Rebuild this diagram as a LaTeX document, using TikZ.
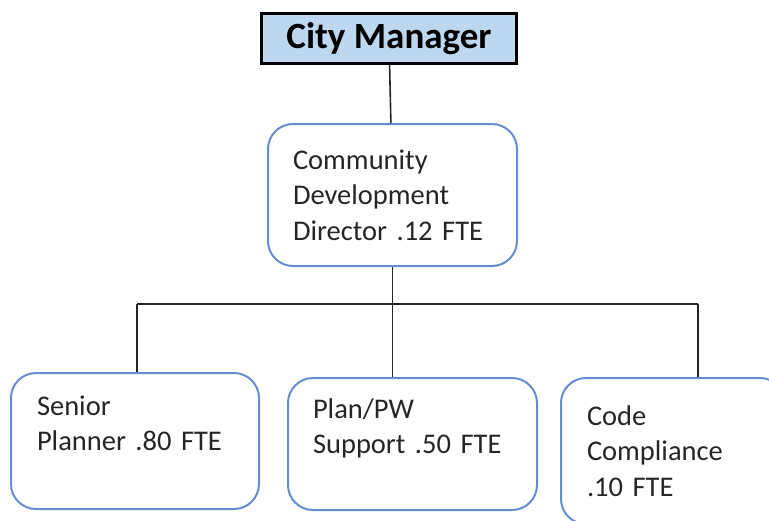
\documentclass[tikz,border=0pt]{standalone}
\usepackage{fontspec}
\setmainfont{Carlito}
\usepackage{tikz}
\usetikzlibrary{calc}
\usetikzlibrary{positioning}

\definecolor{headfill}{RGB}{189,215,238}
\definecolor{boxline}{RGB}{102,140,212}
\definecolor{txt}{RGB}{38,38,38}

\begin{document}
\begin{tikzpicture}[x=1pt, y=-1pt,
    head/.style={draw=black, line width=3pt, fill=headfill, inner sep=0pt,
        font=\fontsize{37}{44}\selectfont\bfseries, text=black},
    staff/.style={draw=boxline, line width=2pt, rounded corners=25pt, fill=white,
        align=left, inner xsep=0pt, inner ysep=0pt, text=txt,
        font=\fontsize{28.5}{35.5}\selectfont},
    link/.style={line width=1.6pt, draw=black!85}]
    \clip (0,0) rectangle (769,520);
    \node [head, minimum width=255pt, minimum height=50pt] (cm) at (389,38.5) {City Manager};
    \node [staff, minimum width=249pt, minimum height=142pt, text width=199pt] (dir) at (392.5,195)
        {Community\\Development\\Director .12 FTE};
    \node [staff, minimum width=248pt, minimum height=136pt, text width=196pt] (sen) at (135,441)
        {Senior\\Planner .80 FTE\\\mbox{}};
    \node [staff, minimum width=249pt, minimum height=132pt, text width=199pt] (plan) at (412.5,444)
        {Plan/PW\\Support .50 FTE\\\mbox{}};
    \node [staff, minimum width=224pt, minimum height=146pt, text width=172pt] (code) at (673,451)
        {Code\\Compliance\\.10 FTE};
    \coordinate (busL) at (137,304);
    \coordinate (busR) at (698,304);
    \coordinate (senTop) at (busL |- sen.north);
    \coordinate (planTop) at (dir.south |- plan.north);
    \coordinate (codeTop) at (busR |- code.north);
    \draw [link] (cm) -- (dir);
    \draw [link] (dir.south) -- (planTop);
    \draw [link] (busL) -- (busR);
    \draw [link] (busL) -- (senTop);
    \draw [link] (busR) -- (codeTop);
\end{tikzpicture}
\end{document}
